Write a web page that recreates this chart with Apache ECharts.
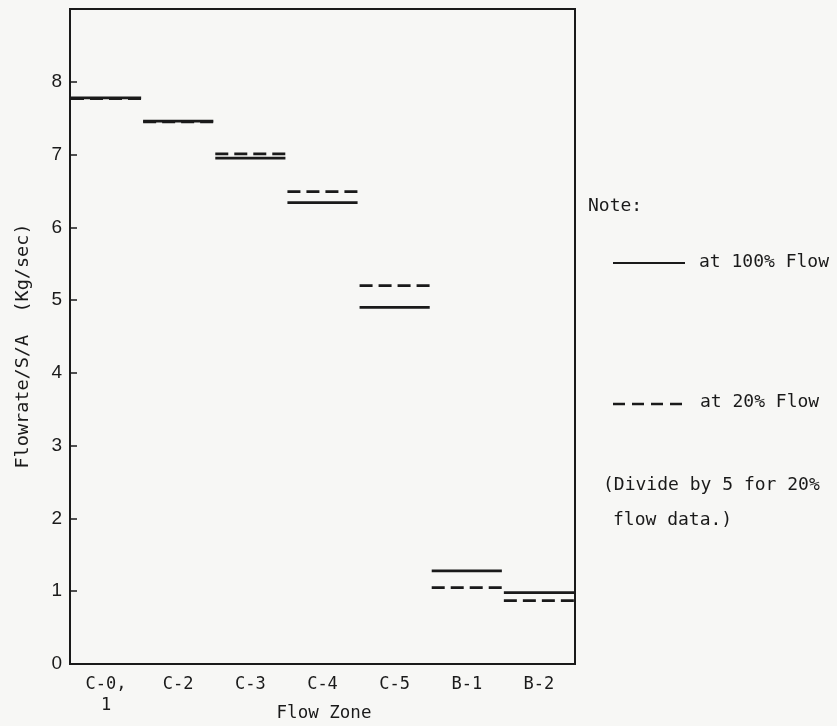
<!DOCTYPE html>
<html>
<head>
<meta charset="utf-8">
<script src="https://cdn.jsdelivr.net/npm/echarts@6/dist/echarts.min.js"></script>
<style>
html,body{margin:0;padding:0;background:#f7f7f5;}
#chart{width:837px;height:726px;}
</style>
</head>
<body>
<div id="chart"></div>
<script>
var categories = ['C-0,\n1', 'C-2', 'C-3', 'C-4', 'C-5', 'B-1', 'B-2'];
var flow100 = [7.78, 7.46, 6.95, 6.34, 4.90, 1.28, 0.98];
var flow20  = [7.77, 7.45, 7.01, 6.49, 5.20, 1.05, 0.87];
var yTicks = [0, 1, 2, 3, 4, 5, 6, 7, 8];

var ink = '#1a1a1a';
var mono = '"DejaVu Sans Mono", "Liberation Mono", monospace';

function makeRender(dashed) {
  return function (params, api) {
    var c = api.coord([api.value(0), api.value(1)]);
    var w = api.size([1, 0])[0];
    return {
      type: 'line',
      shape: { x1: c[0] - w / 2 + 1, y1: c[1], x2: c[0] + w / 2 - 1, y2: c[1] },
      style: { stroke: ink, lineWidth: 2.8, lineDash: dashed ? [13, 6] : null }
    };
  };
}

var chart = echarts.init(document.getElementById('chart'));
chart.setOption({
  backgroundColor: '#f7f7f5',
  animation: false,
  grid: { left: 70, right: 262, top: 9, bottom: 62, outerBoundsMode: 'none', containLabel: false,
          show: true, borderColor: ink, borderWidth: 2, backgroundColor: 'transparent' },
  xAxis: {
    type: 'category',
    data: categories,
    boundaryGap: true,
    axisLine: { lineStyle: { color: ink, width: 2 } },
    axisTick: { inside: true, length: 6, lineStyle: { color: ink, width: 1.5 } },
    axisLabel: { color: ink, fontFamily: mono, fontSize: 17, margin: 10, lineHeight: 21 }
  },
  yAxis: {
    type: 'value',
    min: 0, max: 9, interval: 1,
    axisLine: { show: true, lineStyle: { color: ink, width: 2 } },
    axisTick: { show: true, inside: true, length: 7, lineStyle: { color: ink, width: 1.5 } },
    splitLine: { show: false },
    axisLabel: {
      color: ink, fontFamily: '"Liberation Sans", Arial, sans-serif', fontSize: 19, margin: 8,
      formatter: function (v) { return yTicks.indexOf(v) >= 0 ? String(v) : ''; }
    }
  },
  series: [
    { name: 'at 100% Flow', type: 'custom', renderItem: makeRender(false),
      data: flow100.map(function (v, i) { return [i, v]; }), z: 3 },
    { name: 'at 20% Flow', type: 'custom', renderItem: makeRender(true),
      data: flow20.map(function (v, i) { return [i, v]; }), z: 4 }
  ],
  graphic: [
    { type: 'text', x: 23, y: 346, rotation: Math.PI / 2,
      style: { text: 'Flowrate/S/A  (Kg/sec)', fill: ink, font: '18.5px ' + mono, align: 'center', verticalAlign: 'middle' } },
    { type: 'text', x: 324, y: 713,
      style: { text: 'Flow Zone', fill: ink, font: '17.5px ' + mono, align: 'center', verticalAlign: 'middle' } },
    { type: 'text', left: 588, top: 197, style: { text: 'Note:', fill: ink, font: '18px ' + mono } },
    { type: 'line', shape: { x1: 613, y1: 263, x2: 685, y2: 263 }, style: { stroke: ink, lineWidth: 2 } },
    { type: 'text', left: 699, top: 253, style: { text: 'at 100% Flow', fill: ink, font: '18px ' + mono } },
    { type: 'line', shape: { x1: 613, y1: 404, x2: 687, y2: 404 }, style: { stroke: ink, lineWidth: 2.4, lineDash: [12, 7] } },
    { type: 'text', left: 700, top: 393, style: { text: 'at 20% Flow', fill: ink, font: '18px ' + mono } },
    { type: 'text', left: 603, top: 476, style: { text: '(Divide by 5 for 20%', fill: ink, font: '18px ' + mono } },
    { type: 'text', left: 613, top: 511, style: { text: 'flow data.)', fill: ink, font: '18px ' + mono } }
  ]
});
</script>
</body>
</html>
